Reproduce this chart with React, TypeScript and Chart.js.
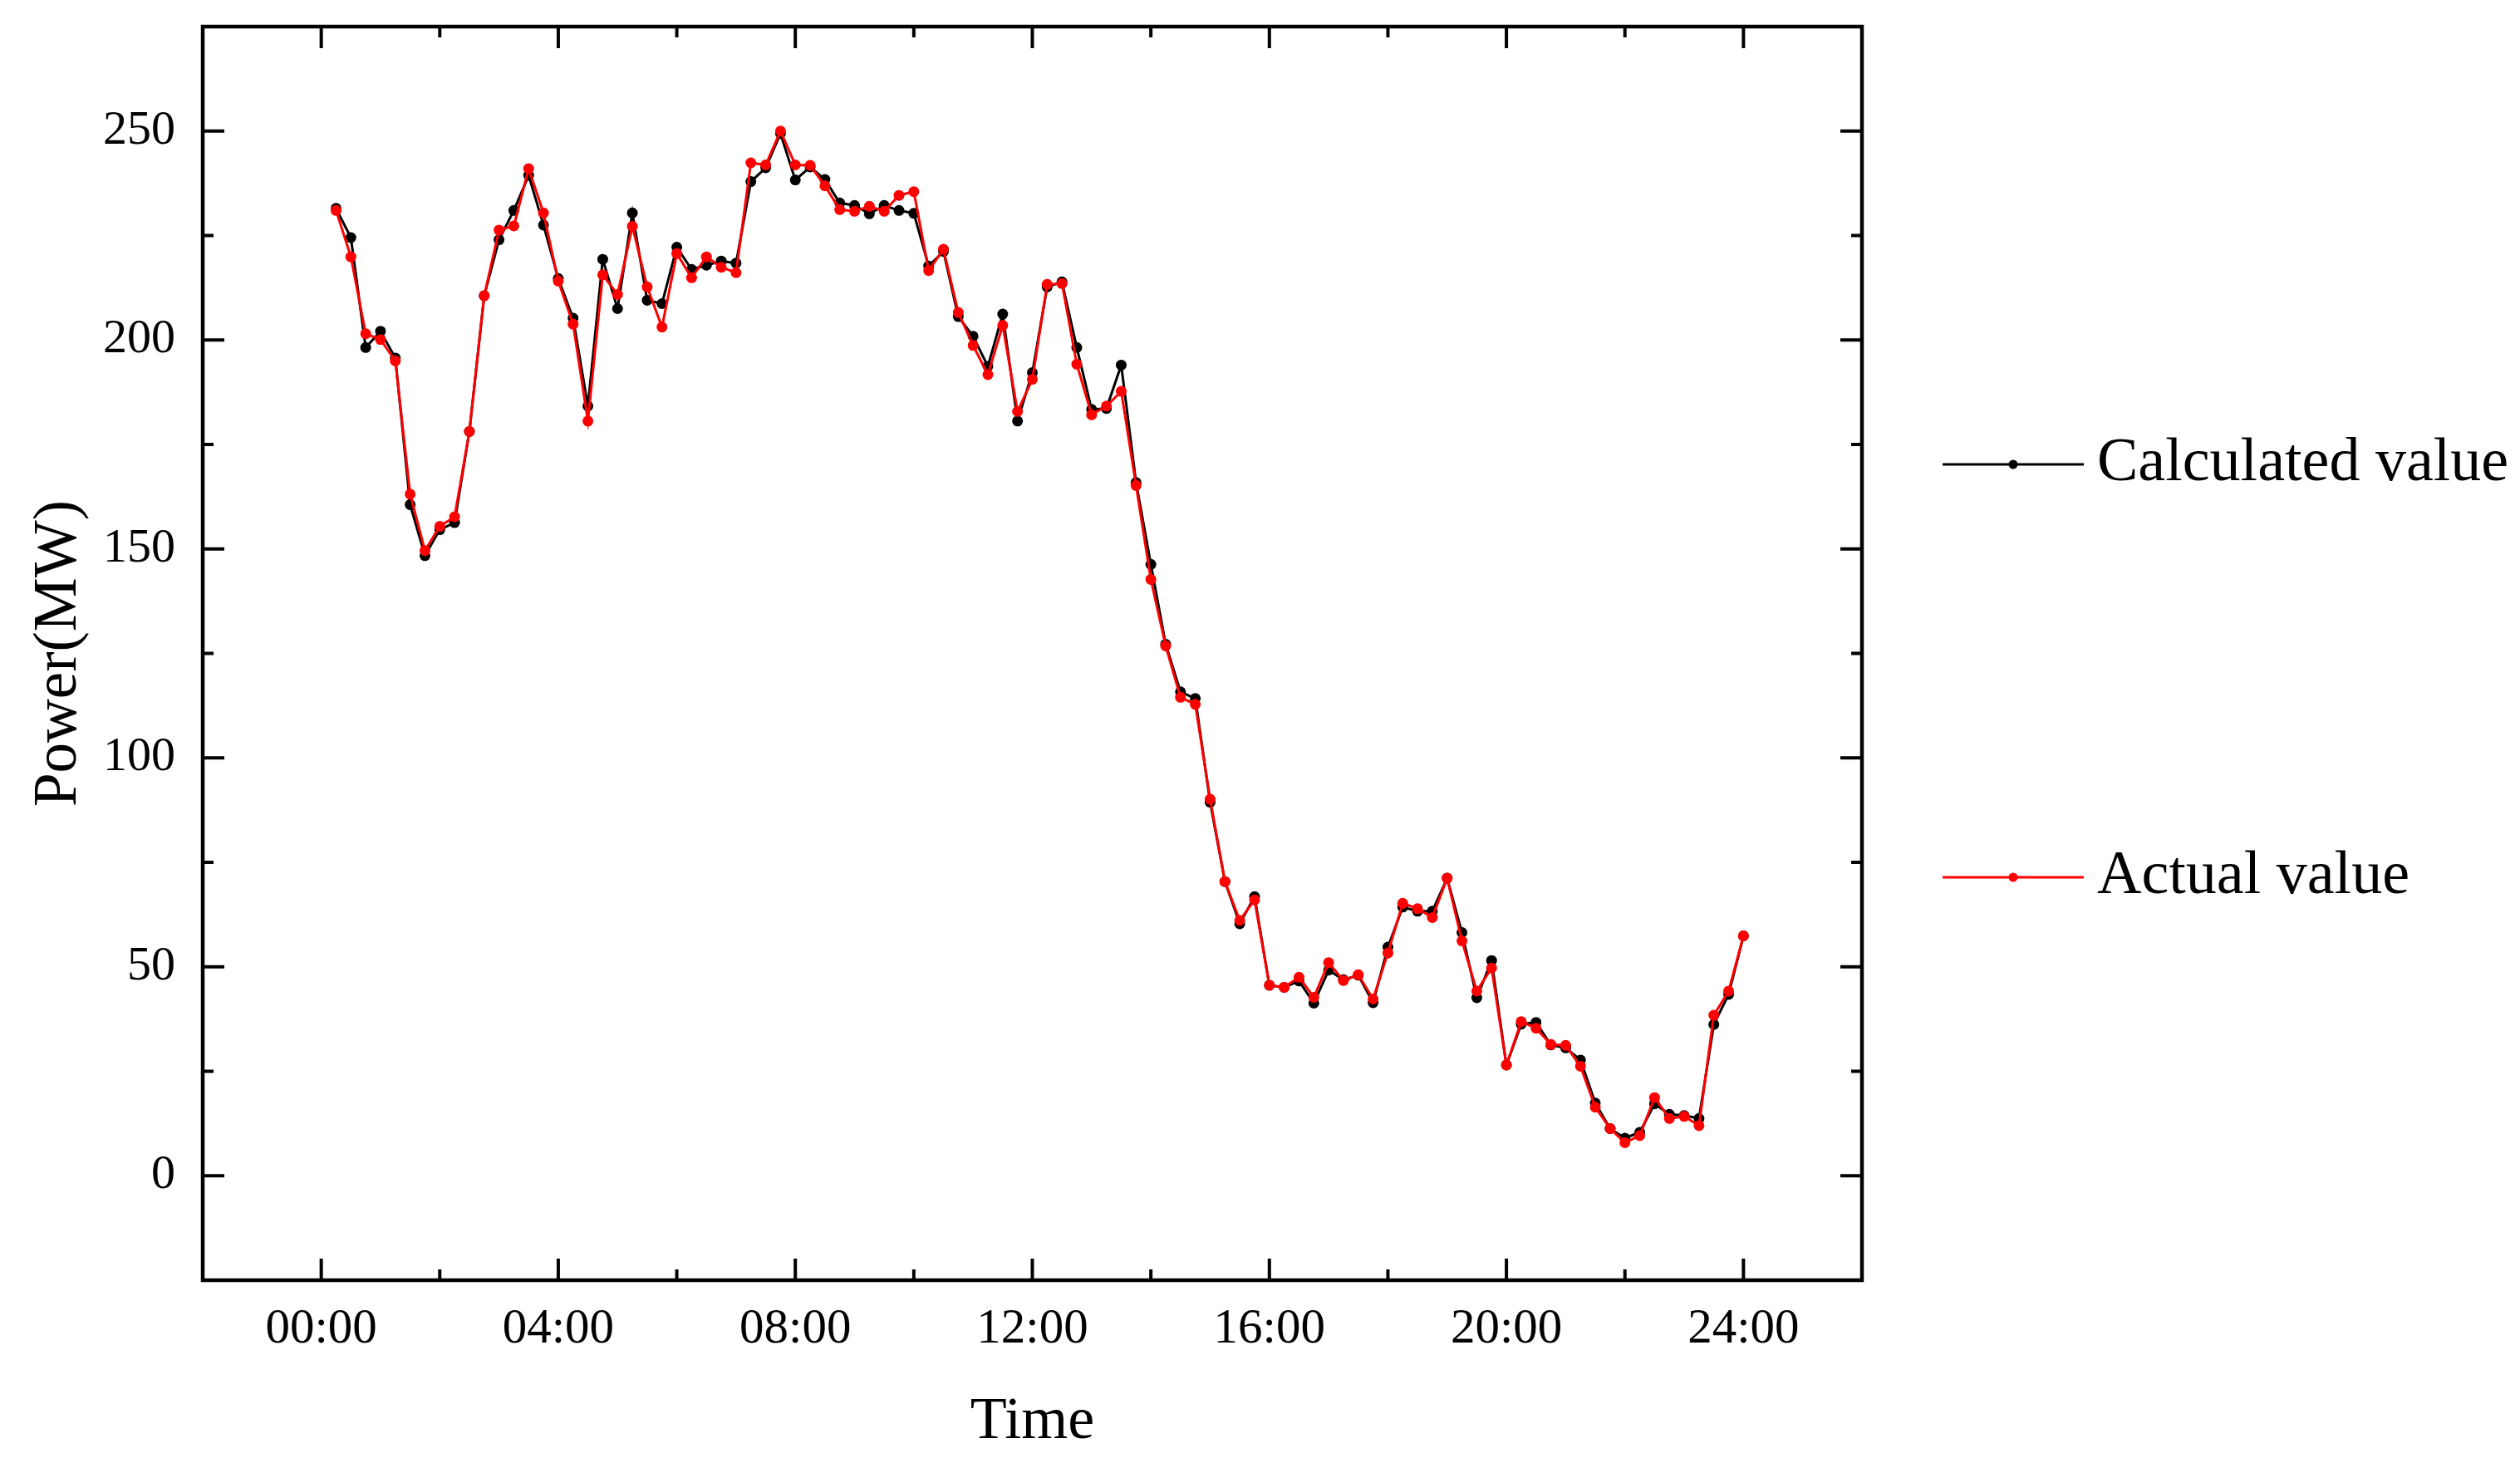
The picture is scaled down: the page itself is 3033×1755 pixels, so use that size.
import React, { useEffect, useRef } from "react";
import { Chart, registerables } from "chart.js";

Chart.register(...registerables);

// ---------- data ----------
const hours = [
  0.25, 0.5, 0.75, 1, 1.25, 1.5, 1.75, 2, 2.25, 2.5, 2.75, 3, 3.25, 3.5, 3.75, 4,
  4.25, 4.5, 4.75, 5, 5.25, 5.5, 5.75, 6, 6.25, 6.5, 6.75, 7, 7.25, 7.5, 7.75, 8,
  8.25, 8.5, 8.75, 9, 9.25, 9.5, 9.75, 10, 10.25, 10.5, 10.75, 11, 11.25, 11.5, 11.75, 12,
  12.25, 12.5, 12.75, 13, 13.25, 13.5, 13.75, 14, 14.25, 14.5, 14.75, 15, 15.25, 15.5, 15.75, 16,
  16.25, 16.5, 16.75, 17, 17.25, 17.5, 17.75, 18, 18.25, 18.5, 18.75, 19, 19.25, 19.5, 19.75, 20,
  20.25, 20.5, 20.75, 21, 21.25, 21.5, 21.75, 22, 22.25, 22.5, 22.75, 23, 23.25, 23.5, 23.75, 24,
];

const calculatedValue = [
  231.5, 224.5, 198.2, 202.1, 195.7, 160.6, 148.4, 154.6, 156.3, 178.1,
  210.6, 224.0, 231.0, 239.4, 227.5, 214.7, 205.2, 184.2, 219.3, 207.5,
  230.4, 209.5, 208.7, 222.2, 216.9, 217.9, 218.9, 218.4, 237.9, 241.2,
  249.4, 238.3, 241.4, 238.4, 232.8, 232.2, 230.2, 232.2, 231.0, 230.3,
  217.7, 221.2, 205.6, 200.9, 193.7, 206.2, 180.6, 192.2, 212.7, 213.9,
  198.2, 183.4, 183.6, 194.0, 165.9, 146.3, 127.2, 115.8, 114.2, 89.4,
  70.4, 60.3, 66.8, 45.6, 45.1, 46.6, 41.3, 49.2, 46.9, 48.0,
  41.4, 54.7, 64.3, 63.3, 63.3, 71.2, 58.2, 42.6, 51.5, 26.5,
  36.3, 36.7, 31.3, 30.6, 27.7, 17.4, 11.3, 9.0, 10.4, 17.2,
  14.7, 14.4, 13.7, 36.2, 43.4, 57.4,
];

const actualValue = [
  231.0, 219.9, 201.5, 200.1, 195.0, 163.1, 149.6, 155.4, 157.7, 178.1,
  210.6, 226.3, 227.3, 241.0, 230.4, 214.1, 203.8, 180.6, 215.6, 210.9,
  227.2, 212.7, 203.1, 220.7, 214.9, 219.9, 217.4, 216.1, 242.4, 241.9,
  250.0, 241.9, 241.8, 236.9, 231.2, 230.8, 232.0, 230.8, 234.6, 235.5,
  216.6, 221.7, 206.6, 198.7, 191.7, 203.5, 182.9, 190.6, 213.3, 213.5,
  194.2, 182.1, 184.2, 187.7, 165.2, 142.7, 126.8, 114.5, 112.8, 90.1,
  70.4, 61.1, 66.0, 45.6, 45.1, 47.5, 42.7, 51.0, 46.7, 48.1,
  42.3, 53.3, 65.2, 63.9, 61.8, 71.2, 56.2, 44.2, 49.7, 26.5,
  36.9, 35.3, 31.4, 31.2, 26.2, 16.4, 11.3, 7.9, 9.6, 18.7,
  13.7, 14.2, 12.0, 38.4, 44.2, 57.4,
];

const seriesNames = ["Calculated value", "Actual value"];
const xTickValues = [0, 4, 8, 12, 16, 20, 24];
const xTickLabels = ["00:00", "04:00", "08:00", "12:00", "16:00", "20:00", "24:00"];
const xMinorTicks = [2, 6, 10, 14, 18, 22];
const yTickValues = [0, 50, 100, 150, 200, 250];
const yMinorTicks = [25, 75, 125, 175, 225];
const xTitle = "Time";
const yTitle = "Power(MW)";

// ---------- styles ----------
const FONT = "'Liberation Serif', 'Times New Roman', serif";
const W = 3033;
const H = 1755;

const framePlugin = {
  id: "frameTicks",
  afterDatasetsDraw(chart: any) {
    const { ctx, chartArea, scales } = chart;
    const { left, right, top, bottom } = chartArea;
    const x = scales.x;
    const y = scales.y;
    const major = 26;
    const minor = 13;
    ctx.save();
    ctx.strokeStyle = "#000";
    ctx.lineCap = "butt";
    ctx.lineWidth = 4;
    const seg = (x1: number, y1: number, x2: number, y2: number) => {
      ctx.beginPath();
      ctx.moveTo(x1, y1);
      ctx.lineTo(x2, y2);
      ctx.stroke();
    };
    xTickValues.forEach((v) => {
      const p = x.getPixelForValue(v);
      seg(p, bottom, p, bottom - major);
      seg(p, top, p, top + major);
    });
    xMinorTicks.forEach((v) => {
      const p = x.getPixelForValue(v);
      seg(p, bottom, p, bottom - minor);
      seg(p, top, p, top + minor);
    });
    yTickValues.forEach((v) => {
      const p = y.getPixelForValue(v);
      seg(left, p, left + major, p);
      seg(right, p, right - major, p);
    });
    yMinorTicks.forEach((v) => {
      const p = y.getPixelForValue(v);
      seg(left, p, left + minor, p);
      seg(right, p, right - minor, p);
    });
    ctx.lineWidth = 4.5;
    ctx.strokeRect(left, top, right - left, bottom - top);
    ctx.restore();
  },
};

const legendPlugin = {
  id: "sideLegend",
  afterDraw(chart: any) {
    const { ctx } = chart;
    const rows = [559, 1056];
    const x0 = 2338;
    const x1 = 2508;
    ctx.save();
    chart.data.datasets.forEach((ds: any, i: number) => {
      const yy = rows[i];
      ctx.strokeStyle = ds.borderColor;
      ctx.lineWidth = 3;
      ctx.beginPath();
      ctx.moveTo(x0, yy);
      ctx.lineTo(x1, yy);
      ctx.stroke();
      ctx.fillStyle = ds.pointBackgroundColor;
      ctx.beginPath();
      ctx.arc((x0 + x1) / 2, yy, 5.5, 0, Math.PI * 2);
      ctx.fill();
      ctx.fillStyle = "#000";
      ctx.font = `74px ${FONT}`;
      ctx.textAlign = "left";
      ctx.textBaseline = "middle";
      ctx.fillText(ds.label, 2524, yy);
    });
    ctx.restore();
  },
};

export default function App() {
  const canvasRef = useRef<HTMLCanvasElement | null>(null);

  useEffect(() => {
    document.body.style.margin = "0";
    const canvas = canvasRef.current;
    if (!canvas) return;

    const chart = new Chart(canvas, {
      type: "line",
      data: {
        datasets: [
          {
            label: seriesNames[0],
            data: hours.map((h, i) => ({ x: h, y: calculatedValue[i] })),
            borderColor: "#000000",
            backgroundColor: "#000000",
            pointBackgroundColor: "#000000",
            pointBorderColor: "#000000",
            pointBorderWidth: 0,
            pointRadius: 6.5,
            borderWidth: 3,
            tension: 0,
            order: 1,
          },
          {
            label: seriesNames[1],
            data: hours.map((h, i) => ({ x: h, y: actualValue[i] })),
            borderColor: "#ff0000",
            backgroundColor: "#ff0000",
            pointBackgroundColor: "#ff0000",
            pointBorderColor: "#ff0000",
            pointBorderWidth: 0,
            pointRadius: 6.5,
            borderWidth: 3,
            tension: 0,
            order: 0,
          },
        ],
      },
      options: {
        animation: false,
        responsive: false,
        maintainAspectRatio: false,
        devicePixelRatio: 1,
        layout: { padding: { top: 32, right: 792, left: 0, bottom: 0 } },
        plugins: {
          legend: { display: false },
          tooltip: { enabled: false },
        },
        scales: {
          x: {
            type: "linear",
            min: -2,
            max: 26,
            afterBuildTicks: (s: any) => {
              s.ticks = xTickValues.map((value) => ({ value }));
            },
            afterFit: (s: any) => {
              s.height = 214;
              s.paddingLeft = 0;
              s.paddingRight = 0;
            },
            grid: { display: false, drawTicks: false },
            border: { display: false },
            ticks: {
              autoSkip: false,
              maxRotation: 0,
              padding: 24,
              color: "#000",
              font: { family: FONT, size: 59 },
              callback: (v: any) => {
                const k = xTickValues.indexOf(Number(v));
                return k >= 0 ? xTickLabels[k] : "";
              },
            },
            title: {
              display: true,
              text: xTitle,
              color: "#000",
              font: { family: FONT, size: 72 },
              padding: { top: 0, bottom: 0 },
            },
          },
          y: {
            type: "linear",
            min: -25,
            max: 275,
            afterBuildTicks: (s: any) => {
              s.ticks = yTickValues.map((value) => ({ value }));
            },
            afterFit: (s: any) => {
              s.width = 244;
              s.paddingTop = 0;
              s.paddingBottom = 0;
            },
            grid: { display: false, drawTicks: false },
            border: { display: false },
            ticks: {
              padding: 33,
              color: "#000",
              font: { family: FONT, size: 58 },
            },
            title: {
              display: true,
              text: yTitle,
              color: "#000",
              font: { family: FONT, size: 73 },
              padding: { top: 28, bottom: 0 },
            },
          },
        },
      },
      plugins: [framePlugin, legendPlugin],
    } as any);

    return () => {
      chart.destroy();
    };
  }, []);

  return (
    <canvas
      ref={canvasRef}
      width={W}
      height={H}
      style={{ display: "block", width: W, height: H }}
    />
  );
}
